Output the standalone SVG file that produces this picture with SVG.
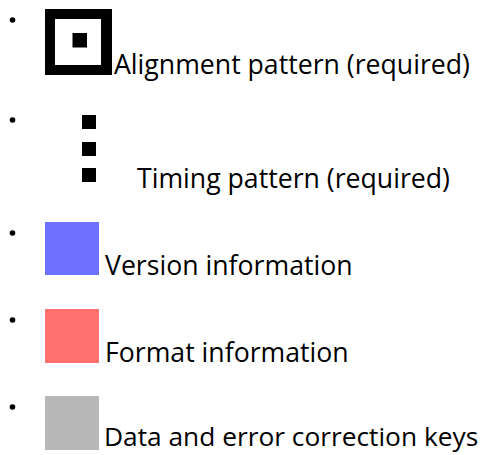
<svg xmlns="http://www.w3.org/2000/svg" width="485" height="455" viewBox="0 0 485 455">
<style>
text{font-family:"Open Sans","Noto Sans",sans-serif;font-size:26.67px;fill:#000}
.b{fill:#000}
</style>
<rect width="485" height="455" fill="#fff"/>
<g id="alignment">
<circle class="b" cx="12.5" cy="20" r="2.8"/>
<rect x="45" y="9" width="67" height="66" fill="#000"/>
<rect x="55" y="19" width="46" height="46" fill="#fff"/>
<rect x="72.5" y="33" width="14.5" height="14.5" fill="#000"/>
<text x="114" y="74">Alignment pattern (required)</text>
</g>
<g id="timing">
<circle class="b" cx="12.5" cy="120" r="2.8"/>
<rect x="82" y="115" width="14" height="14" fill="#000"/>
<rect x="82" y="142" width="14" height="14" fill="#000"/>
<rect x="82" y="168" width="14" height="14" fill="#000"/>
<text x="137" y="188">Timing pattern (required)</text>
</g>
<g id="version">
<circle class="b" cx="12.5" cy="233" r="2.8"/>
<rect x="45" y="222" width="54" height="53" fill="#7070ff"/>
<text x="105" y="275">Version information</text>
</g>
<g id="format">
<circle class="b" cx="12.5" cy="320" r="2.8"/>
<rect x="45" y="309" width="54" height="54" fill="#ff7070"/>
<text x="105" y="362">Format information</text>
</g>
<g id="data">
<circle class="b" cx="12.5" cy="407" r="2.8"/>
<rect x="45" y="396" width="54" height="54" fill="#b8b8b8"/>
<text x="104" y="446" style="font-size:26.3px">Data and error correction keys</text>
</g>
</svg>
